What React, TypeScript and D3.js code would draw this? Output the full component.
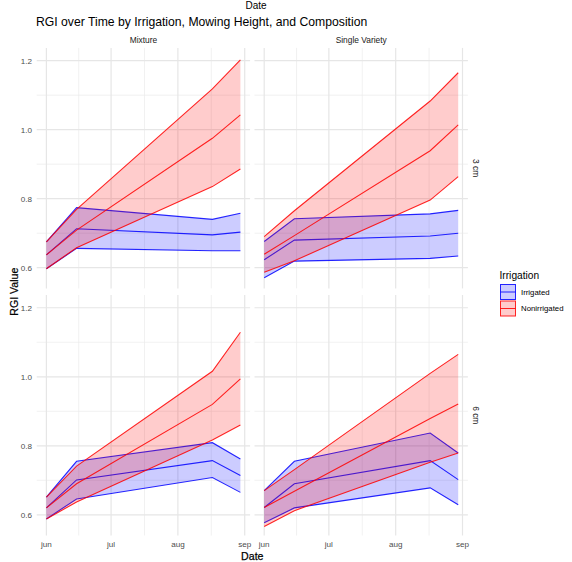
import React from "react";
import * as d3 from "d3";

// ---- data ----
const dates = ["2023-06-01", "2023-06-15", "2023-08-17", "2023-08-30"];
const compositions = ["Mixture", "Single Variety"];
const heights = ["3 cm", "6 cm"];
const irrigation = ["Irrigated", "Nonirrigated"];
const yTicks = [0.6, 0.8, 1.0, 1.2];
const yMinor = [0.7, 0.9, 1.1];
const xTickDates = ["2023-06-01", "2023-07-01", "2023-08-01", "2023-09-01"];
const xTickLabels = ["jun", "jul", "aug", "sep"];

// Mixture, 3 cm
const mix3IrrLower = [0.597, 0.656, 0.649, 0.649];
const mix3IrrMean = [0.637, 0.713, 0.695, 0.703];
const mix3IrrUpper = [0.675, 0.774, 0.740, 0.758];
const mix3NonLower = [0.597, 0.658, 0.835, 0.886];
const mix3NonMean = [0.637, 0.709, 0.975, 1.043];
const mix3NonUpper = [0.675, 0.769, 1.118, 1.202];
// Single Variety, 3 cm
const sin3IrrLower = [0.571, 0.619, 0.627, 0.634];
const sin3IrrMean = [0.623, 0.680, 0.692, 0.700];
const sin3IrrUpper = [0.676, 0.742, 0.756, 0.766];
const sin3NonLower = [0.587, 0.620, 0.796, 0.864];
const sin3NonMean = [0.639, 0.693, 0.939, 1.014];
const sin3NonUpper = [0.690, 0.765, 1.083, 1.165];
// Mixture, 6 cm
const mix6IrrLower = [0.588, 0.646, 0.708, 0.665];
const mix6IrrMean = [0.620, 0.701, 0.757, 0.714];
const mix6IrrUpper = [0.651, 0.755, 0.809, 0.762];
const mix6NonLower = [0.588, 0.637, 0.817, 0.860];
const mix6NonMean = [0.620, 0.690, 0.920, 0.994];
const mix6NonUpper = [0.651, 0.741, 1.016, 1.129];
// Single Variety, 6 cm
const sin6IrrLower = [0.577, 0.620, 0.678, 0.629];
const sin6IrrMean = [0.621, 0.690, 0.757, 0.702];
const sin6IrrUpper = [0.670, 0.755, 0.837, 0.779];
const sin6NonLower = [0.566, 0.612, 0.752, 0.779];
const sin6NonMean = [0.621, 0.668, 0.879, 0.921];
const sin6NonUpper = [0.670, 0.731, 1.010, 1.065];

const panels = [
  { comp: 0, height: 0, series: [[mix3IrrLower, mix3IrrMean, mix3IrrUpper], [mix3NonLower, mix3NonMean, mix3NonUpper]] },
  { comp: 1, height: 0, series: [[sin3IrrLower, sin3IrrMean, sin3IrrUpper], [sin3NonLower, sin3NonMean, sin3NonUpper]] },
  { comp: 0, height: 1, series: [[mix6IrrLower, mix6IrrMean, mix6IrrUpper], [mix6NonLower, mix6NonMean, mix6NonUpper]] },
  { comp: 1, height: 1, series: [[sin6IrrLower, sin6IrrMean, sin6IrrUpper], [sin6NonLower, sin6NonMean, sin6NonUpper]] },
];

// ---- layout ----
const W = 572, H = 562;
const PX = [36.7, 254.5];
const PY = [47.9, 295];
const PW = 213.4;
const PH = 240.5;
const colors = ["#0000ff", "#ff0000"];
const FONT = "'Liberation Sans', Arial, Helvetica, sans-serif";

const parse = d3.timeParse("%Y-%m-%d");
const dateObjs = dates.map((d) => parse(d) as Date);
const t0 = dateObjs[0].getTime();
const t1 = dateObjs[dateObjs.length - 1].getTime();
const pad = (t1 - t0) * 0.05;
const x = d3.scaleTime().domain([new Date(t0 - pad), new Date(t1 + pad)]).range([0, PW]);
const y = d3.scaleLinear().domain([0.54, 1.237]).range([PH, 0]);

const xMajor = xTickDates.map((d) => parse(d) as Date);
const xMinor: Date[] = [];
for (let i = 0; i < xMajor.length - 1; i++) {
  xMinor.push(new Date((xMajor[i].getTime() + xMajor[i + 1].getTime()) / 2));
}

function bandPath(lower: number[], upper: number[]) {
  const a = d3
    .area<number>()
    .x((_, i) => x(dateObjs[i]))
    .y0((_, i) => y(lower[i]))
    .y1((_, i) => y(upper[i]));
  return a(lower) || "";
}
const line = d3
  .line<number>()
  .x((_, i) => x(dateObjs[i]))
  .y((v) => y(v));

export default function App() {
  return (
    <svg width={W} height={H} style={{ position: "absolute", left: 0, top: 0, background: "#fff" }} fontFamily={FONT}>
      <rect x={0} y={0} width={W} height={H} fill="#fff" />
      <text x={256} y={9} fontSize={10} textAnchor="middle" fill="#000">Date</text>
      <text x={36} y={26} fontSize={12.2} fill="#000">RGI over Time by Irrigation, Mowing Height, and Composition</text>

      {compositions.map((c, i) => (
        <text key={c} x={PX[i] + PW / 2} y={43.3} fontSize={8.4} textAnchor="middle" fill="#1a1a1a">{c}</text>
      ))}
      {heights.map((h, j) => (
        <text key={h} transform={`translate(476,${PY[j] + PH / 2}) rotate(90)`} fontSize={8.4} textAnchor="middle" dominantBaseline="central" fill="#1a1a1a">{h}</text>
      ))}

      {panels.map((p, k) => (
        <g key={k} transform={`translate(${PX[p.comp]},${PY[p.height]})`}>
          {yMinor.map((v) => (
            <line key={"ym" + v} x1={0} x2={PW} y1={y(v)} y2={y(v)} stroke="#ebebeb" strokeWidth={0.7} />
          ))}
          {xMinor.map((d, i) => (
            <line key={"xm" + i} x1={x(d)} x2={x(d)} y1={0} y2={PH} stroke="#ebebeb" strokeWidth={0.7} />
          ))}
          {yTicks.map((v) => (
            <line key={"y" + v} x1={0} x2={PW} y1={y(v)} y2={y(v)} stroke="#e6e6e6" strokeWidth={1.2} />
          ))}
          {xMajor.map((d, i) => (
            <line key={"x" + i} x1={x(d)} x2={x(d)} y1={0} y2={PH} stroke="#e6e6e6" strokeWidth={1.2} />
          ))}
          {p.series.map((s, gi) => (
            <g key={gi}>
              <path d={bandPath(s[0], s[2])} fill={colors[gi]} fillOpacity={0.2} stroke="none" />
              <path d={line(s[0]) || ""} fill="none" stroke={colors[gi]} strokeWidth={1.1} strokeOpacity={0.85} />
              <path d={line(s[2]) || ""} fill="none" stroke={colors[gi]} strokeWidth={1.1} strokeOpacity={0.85} />
              <path d={line(s[1]) || ""} fill="none" stroke={colors[gi]} strokeWidth={1.1} strokeOpacity={0.85} />
            </g>
          ))}
        </g>
      ))}

      {PY.map((py, j) =>
        yTicks.map((v) => (
          <text key={j + "-" + v} x={32} y={py + y(v)} dy="0.35em" fontSize={8.1} textAnchor="end" fill="#4d4d4d">
            {v.toFixed(1)}
          </text>
        ))
      )}
      {PX.map((px, i) =>
        xMajor.map((d, k) => (
          <text key={i + "-" + k} x={px + x(d)} y={547} fontSize={8.1} textAnchor="middle" fill="#4d4d4d">
            {xTickLabels[k]}
          </text>
        ))
      )}
      <text x={(PX[0] + PX[1] + PW) / 2} y={559.5} fontSize={10.6} textAnchor="middle" fill="#000" stroke="#000" strokeWidth={0.25}>Date</text>
      <text transform={`translate(13.5,${(PY[0] + PY[1] + PH) / 2}) rotate(-90)`} fontSize={10.6} textAnchor="middle" dominantBaseline="central" fill="#000" stroke="#000" strokeWidth={0.2}>RGI Value</text>

      <text x={499.5} y={278.5} fontSize={10.2} fill="#000">Irrigation</text>
      {irrigation.map((g, i) => (
        <g key={g} transform={`translate(500,${284 + i * 16.5})`}>
          <rect x={0.5} y={0.5} width={15} height={15} fill={colors[i]} fillOpacity={0.2} stroke={colors[i]} strokeWidth={1} strokeOpacity={0.85} />
          <line x1={0.5} x2={15.5} y1={8} y2={8} stroke={colors[i]} strokeWidth={1} strokeOpacity={0.85} />
          <text x={21} y={8} dy="0.35em" fontSize={7.8} fill="#000">{g}</text>
        </g>
      ))}
    </svg>
  );
}
